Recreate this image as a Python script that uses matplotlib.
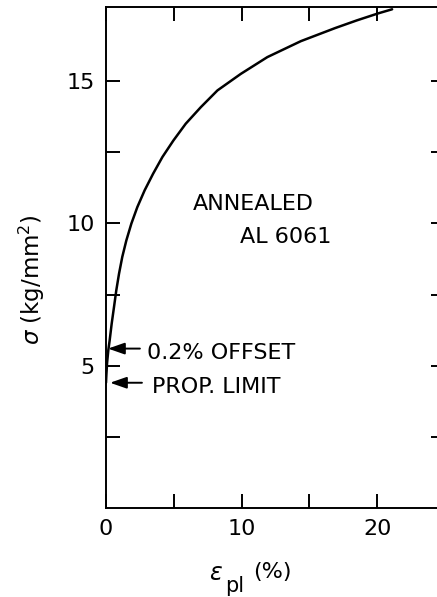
import matplotlib
matplotlib.use("Agg")
import matplotlib.pyplot as plt

# Data (plastic strain %, stress kg/mm^2)
strain_pct = [0.0, 0.03, 0.08, 0.17, 0.27, 0.42, 0.59, 0.76, 0.96, 1.2,
              1.5, 1.87, 2.31, 2.85, 3.47, 4.16, 4.97, 5.88, 6.99, 8.22,
              9.94, 11.9, 14.37, 16.9, 18.5, 20.1, 21.1]
stress = [4.4, 4.7, 5.1, 5.54, 5.89, 6.48, 7.06, 7.65, 8.23, 8.82,
          9.4, 9.99, 10.57, 11.16, 11.74, 12.33, 12.91, 13.5, 14.08, 14.67,
          15.25, 15.84, 16.40, 16.86, 17.13, 17.38, 17.52]

offset_stress = 5.6
prop_limit_stress = 4.4

xticks_major = [0, 10, 20]
xtick_labels = ["0", "10", "20"]
xticks_minor = [5, 15]
yticks_major = [5, 10, 15]
ytick_labels = ["5", "10", "15"]
yticks_minor = [2.5, 7.5, 12.5]

plt.rcParams['font.family'] = ['DejaVu Sans']
plt.rcParams['mathtext.fontset'] = 'dejavusans'

fig = plt.figure(figsize=(4.37, 5.97), dpi=100)
W, H = 437, 597
left, right, bottom, top = 106, 445, 508, 7
ax = fig.add_axes([left / W, (H - bottom) / H, (right - left) / W, (bottom - top) / H])

ax.plot(strain_pct, stress, color='black', lw=1.8, solid_capstyle='round',
        solid_joinstyle='round')
ax.set_xlim(0, 25)
ax.set_ylim(0, 17.6)

for s in ['left', 'bottom', 'top']:
    ax.spines[s].set_linewidth(1.4)
ax.spines['right'].set_visible(False)

ax.set_xticks(xticks_major)
ax.set_xticklabels(xtick_labels)
ax.set_xticks(xticks_minor, minor=True)
ax.set_yticks(yticks_major)
ax.set_yticklabels(ytick_labels)
ax.set_yticks(yticks_minor, minor=True)

ax.tick_params(axis='both', which='both', direction='in', length=10, width=1.4,
               top=True, right=True, labelsize=16)
ax.tick_params(axis='x', which='both', pad=8)
ax.tick_params(axis='y', which='both', pad=8)

arrow_kw = dict(arrowstyle='-|>,head_length=1.0,head_width=0.35', color='black', lw=1.4,
                shrinkA=0, shrinkB=0)
ax.annotate('', xy=(0.15, offset_stress), xytext=(2.5, offset_stress), arrowprops=arrow_kw)
ax.annotate('', xy=(0.3, prop_limit_stress), xytext=(2.65, prop_limit_stress), arrowprops=arrow_kw)

fs = 16
ax.text(3.0, 5.23, '0.2% OFFSET', fontsize=fs, va='baseline', ha='left')
ax.text(3.4, 4.04, 'PROP. LIMIT', fontsize=fs, va='baseline', ha='left')
ax.text(6.4, 10.46, 'ANNEALED', fontsize=fs, va='baseline', ha='left')
ax.text(9.9, 9.3, 'AL 6061', fontsize=fs, va='baseline', ha='left')

fig.text(32 / W, 1 - 280 / H, r'$\sigma$ (kg/mm$^2$)', rotation=90, fontsize=16.5,
         ha='center', va='center')
fig.text(223 / W, 1 - 580 / H, r'$\epsilon$', fontsize=17, ha='right', va='baseline')
fig.text(225 / W, 1 - 592 / H, 'pl', fontsize=15, ha='left', va='baseline')
fig.text(272 / W, 1 - 572 / H, '(%)', fontsize=16, ha='center', va='center')

fig.savefig('out.png', dpi=100)
